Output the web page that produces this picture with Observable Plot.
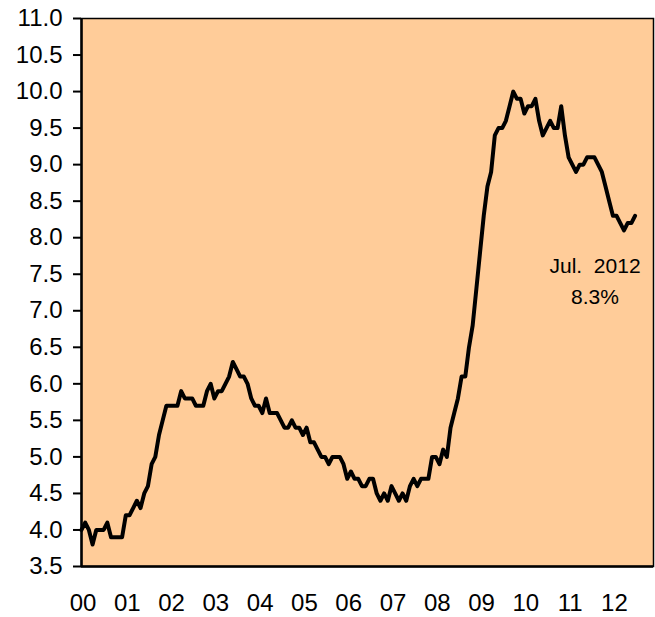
<!DOCTYPE html>
<html><head><meta charset="utf-8">
<script src="https://cdn.jsdelivr.net/npm/d3@7"></script>
<script src="https://cdn.jsdelivr.net/npm/@observablehq/plot@0.6"></script>
<style>
html,body{margin:0;padding:0;background:#fff;}
svg{display:block;}
</style>
</head><body><div id="chart"></div>
<script>
// Monthly unemployment rate (%), Jan 2000 – Jul 2012
const u2000 = [4.0,4.1,4.0,3.8,4.0,4.0,4.0,4.1,3.9,3.9,3.9,3.9];
const u2001 = [4.2,4.2,4.3,4.4,4.3,4.5,4.6,4.9,5.0,5.3,5.5,5.7];
const u2002 = [5.7,5.7,5.7,5.9,5.8,5.8,5.8,5.7,5.7,5.7,5.9,6.0];
const u2003 = [5.8,5.9,5.9,6.0,6.1,6.3,6.2,6.1,6.1,6.0,5.8,5.7];
const u2004 = [5.7,5.6,5.8,5.6,5.6,5.6,5.5,5.4,5.4,5.5,5.4,5.4];
const u2005 = [5.3,5.4,5.2,5.2,5.1,5.0,5.0,4.9,5.0,5.0,5.0,4.9];
const u2006 = [4.7,4.8,4.7,4.7,4.6,4.6,4.7,4.7,4.5,4.4,4.5,4.4];
const u2007 = [4.6,4.5,4.4,4.5,4.4,4.6,4.7,4.6,4.7,4.7,4.7,5.0];
const u2008 = [5.0,4.9,5.1,5.0,5.4,5.6,5.8,6.1,6.1,6.5,6.8,7.3];
const u2009 = [7.8,8.3,8.7,8.9,9.4,9.5,9.5,9.6,9.8,10.0,9.9,9.9];
const u2010 = [9.7,9.8,9.8,9.9,9.6,9.4,9.5,9.6,9.5,9.5,9.8,9.4];
const u2011 = [9.1,9.0,8.9,9.0,9.0,9.1,9.1,9.1,9.0,8.9,8.7,8.5];
const u2012 = [8.3,8.3,8.2,8.1,8.2,8.2,8.3];

const yearLabels = ["00","01","02","03","04","05","06","07","08","09","10","11","12"];
const yTicks = [3.5,4.0,4.5,5.0,5.5,6.0,6.5,7.0,7.5,8.0,8.5,9.0,9.5,10.0,10.5,11.0];
const annotationLines = ["Jul.\u00a0\u00a02012", "8.3%"];

const series = [u2000,u2001,u2002,u2003,u2004,u2005,u2006,u2007,u2008,u2009,u2010,u2011,u2012];
const data = series.flatMap((arr, yi) => arr.map((v, mi) => ({m: yi * 12 + mi, v})));
const last = data[data.length - 1];

const chart = Plot.plot({
  width: 655,
  height: 617,
  marginLeft: 81,
  marginRight: 2,
  marginTop: 18,
  marginBottom: 51,
  style: {fontFamily: "'Liberation Sans', Arial, sans-serif", background: "#fff", color: "#000"},
  x: {domain: [0, 155]},
  y: {domain: [3.5, 11]},
  marks: [
    Plot.frame({fill: "#FFCC99", stroke: "none"}),
    Plot.line(data, {x: "m", y: "v", stroke: "#000", strokeWidth: 4, strokeLinejoin: "round"}),
    Plot.frame({stroke: "#000", strokeWidth: 1.5}),
    Plot.ruleX([0], {stroke: "#000", strokeWidth: 2.5}),
    Plot.ruleY([3.5], {stroke: "#000", strokeWidth: 2.5}),
    Plot.axisY({ticks: yTicks, tickFormat: d3.format(".1f"), tickSize: 8, tickPadding: 11,
      fontSize: 24, label: null, stroke: "#000", strokeWidth: 2, fill: "#000"}),
    Plot.axisX({ticks: yearLabels.map((_, i) => i * 12), tickFormat: d => yearLabels[d / 12],
      tickSize: 0, tickPadding: 27, fontSize: 24, label: null, fill: "#000", dx: 1.5}),
    Plot.text([last], {x: "m", y: "v", text: () => annotationLines.join("\n"),
      dx: -40, dy: 36, lineAnchor: "top", fontSize: 21, lineHeight: 1.45, fill: "#000"})
  ]
});
document.getElementById("chart").appendChild(chart);
</script>
</body></html>
